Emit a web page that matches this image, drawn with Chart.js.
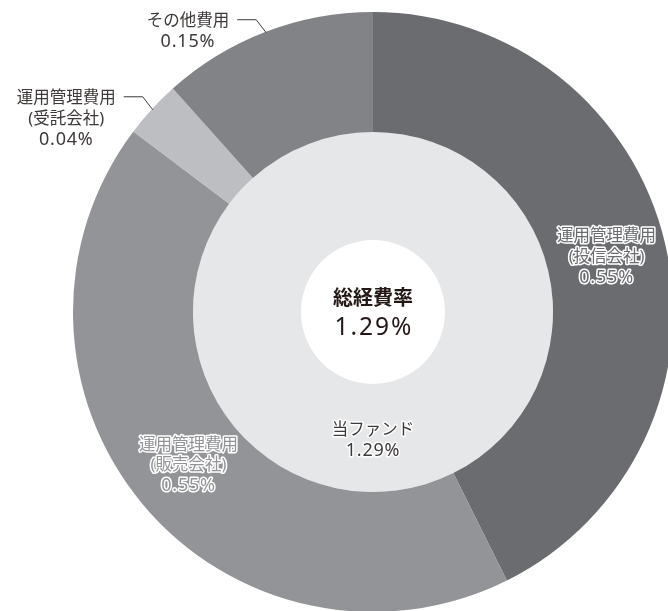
<!DOCTYPE html>
<html lang="ja">
  <head>
    <meta charset="UTF-8" />
    <script src="https://cdn.jsdelivr.net/npm/chart.js"></script>
    <title>総経費率</title>
    <style>
      body { margin: 0; background: #fff; overflow: hidden; width: 668px; height: 611px; }
      #wrap { position: absolute; left: 0; top: 0; width: 680px; height: 612px; }
    </style>
  </head>
  <body>
    <div id="wrap"><canvas id="myChart" width="680" height="612"></canvas></div>

    <script>
      // outer ring: cost breakdown
      const outerLabels = [
        ["運用管理費用", "(投信会社)"],
        ["運用管理費用", "(販売会社)"],
        ["運用管理費用", "(受託会社)"],
        ["その他費用"],
      ];
      const outerValues = [0.55, 0.55, 0.04, 0.15];
      const outerColors = ["#6b6c70", "#939497", "#bdbec1", "#828387"];
      const outsideSlices = [2, 3]; // small slices get a leader line

      // inner ring: the fund total
      const innerLabels = [["当ファンド"]];
      const innerValues = [1.29];

      const centerTitle = "総経費率";
      const centerValue = 1.29;

      const FONT = '"Noto Sans", "Noto Sans CJK JP", sans-serif';
      const pct = (v) => v.toFixed(2) + "%";
      const LH = 20.5;

      // last line is the percentage, drawn a bit larger and wider
      const drawLines = (ctx, lines, x, y, fill, stroke) => {
        lines.forEach((t, k) => {
          const yy = y + k * LH;
          const isPct = k === lines.length - 1;
          ctx.font = (isPct ? "18px " : "16.5px ") + FONT;
          ctx.letterSpacing = isPct ? "0.8px" : "0px";
          if (stroke) {
            ctx.strokeStyle = stroke;
            ctx.lineWidth = 3;
            ctx.lineJoin = "round";
            ctx.strokeText(t, x, yy);
          }
          ctx.fillStyle = fill;
          ctx.fillText(t, x, yy);
        });
        ctx.letterSpacing = "0px";
      };

      const labelPlugin = {
        id: "sliceLabels",
        afterDatasetsDraw(chart) {
          const ctx = chart.ctx;
          const outer = chart.getDatasetMeta(0).data;
          const inner = chart.getDatasetMeta(1).data;
          ctx.save();
          ctx.textAlign = "center";
          ctx.textBaseline = "middle";

          outer.forEach((arc, i) => {
            const lines = outerLabels[i].concat(pct(outerValues[i]));
            if (outsideSlices.includes(i)) {
              const a = (arc.startAngle + arc.endAngle) / 2;
              const px = arc.x + Math.cos(a) * (arc.outerRadius - 1);
              const py = arc.y + Math.sin(a) * (arc.outerRadius - 1);
              const ex = px - 10, ey = py - 13;
              const hx = ex - 19;
              ctx.strokeStyle = "#3e3a39";
              ctx.lineWidth = 1;
              ctx.beginPath();
              ctx.moveTo(px, py);
              ctx.lineTo(ex, ey);
              ctx.lineTo(hx, ey);
              ctx.stroke();
              ctx.font = "16.5px " + FONT;
              const w = ctx.measureText(lines[0]).width;
              const cx = hx - 8 - w / 2;
              drawLines(ctx, lines, cx, ey + 2, "#3e3a39", null);
            } else {
              const p = arc.tooltipPosition();
              drawLines(ctx, lines, p.x, p.y - LH, outerColors[i], "#ffffff");
            }
          });

          inner.forEach((arc, i) => {
            const p = arc.tooltipPosition();
            const lines = innerLabels[i].concat(pct(innerValues[i]));
            drawLines(ctx, lines, p.x, p.y - 8, "#3e3a39", "#ffffff");
          });

          // centre text
          const c = outer[0];
          ctx.fillStyle = "#231815";
          ctx.font = "bold 20px " + FONT;
          ctx.fillText(centerTitle, c.x, c.y - 13);
          ctx.font = "24.5px " + FONT;
          ctx.letterSpacing = "2px";
          ctx.fillText(pct(centerValue), c.x + 1, c.y + 16);
          ctx.restore();
        },
      };

      const chart = new Chart(document.getElementById("myChart"), {
        type: "doughnut",
        data: {
          labels: outerLabels.map((l) => l.join("")),
          datasets: [
            {
              data: outerValues,
              backgroundColor: outerColors,
              borderWidth: 0,
              weight: 120,
            },
            {
              data: innerValues,
              backgroundColor: ["#e6e7e8"],
              borderWidth: 0,
              weight: 108,
            },
          ],
        },
        options: {
          responsive: false,
          animation: false,
          cutout: 72,
          layout: { padding: { left: 73, right: 7, top: 12, bottom: 0 } },
          plugins: { legend: { display: false }, tooltip: { enabled: false } },
        },
        plugins: [labelPlugin],
      });
    </script>
  </body>
</html>
